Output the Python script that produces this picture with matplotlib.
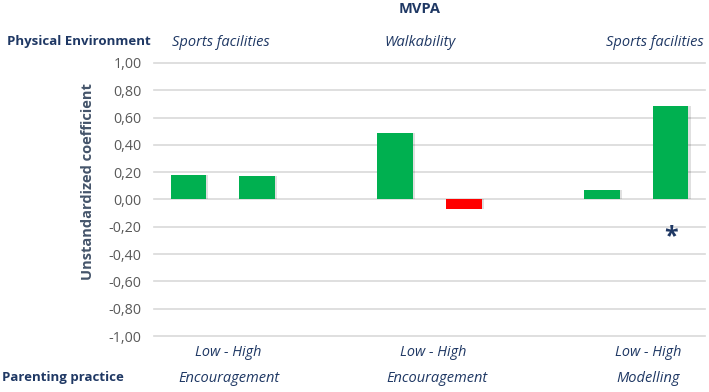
import matplotlib.pyplot as plt

# bar data (MVPA, unstandardized coefficients)
positions = [0, 1, 3, 4, 6, 7]
values = [0.18, 0.17, 0.49, -0.07, 0.07, 0.685]
colors = ['#00B050', '#00B050', '#00B050', '#FF0000', '#00B050', '#00B050']
yticks = [1.0, 0.8, 0.6, 0.4, 0.2, 0.0, -0.2, -0.4, -0.6, -0.8, -1.0]

environments = ['Sports facilities', 'Walkability', 'Sports facilities']
env_x = [221, 420, 655]
practices = ['Encouragement', 'Encouragement', 'Modelling']
prac_x = [229, 437, 648]
lowhigh_x = [228, 433, 648]

text_col = '#1F3864'
W, H = 709, 392

plt.rcParams['font.family'] = ['Open Sans', 'DejaVu Sans']

fig = plt.figure(figsize=(7.09, 3.92), dpi=100)
ax = fig.add_axes([154 / W, 1 - 336 / H, (705 - 154) / W, (336 - 63) / H])

# faint shadow behind bars
ax.bar([p + 0.03 for p in positions], values, width=0.52, color='#000000',
       alpha=0.12, zorder=2)
ax.bar(positions, values, width=0.52, color=colors, zorder=3)

ax.set_xlim(-0.5, 7.5)
ax.set_ylim(-1, 1)
ax.set_yticks(yticks)
ax.set_yticklabels(['{:.2f}'.format(v).replace('.', ',') for v in yticks],
                   color='#595959', fontsize=10.3)
ax.tick_params(axis='y', length=0, pad=9)
ax.set_xticks([])
for y in yticks:
    ax.axhline(y, color='#D9D9D9', lw=1.2, zorder=1, clip_on=False)
for s in ax.spines.values():
    s.set_visible(False)

fig.text(88 / W, 1 - 182 / H, 'Unstandardized coefficient', fontsize=10.5,
         fontweight='bold', color='#44546A', rotation=90,
         ha='center', va='center')

ax.text(7, -0.27, '*', fontsize=18, fontweight='bold', color=text_col,
        ha='center', va='center')

fig.text(420 / W, 1 - 9 / H, 'MVPA', fontsize=10.5, fontweight='bold',
         color=text_col, ha='center', va='center')
fig.text(7 / W, 1 - 42 / H, 'Physical Environment', fontsize=9.5,
         fontweight='bold', color=text_col, ha='left', va='center')
fig.text(2 / W, 1 - 378 / H, 'Parenting practice', fontsize=9.5,
         fontweight='bold', color=text_col, ha='left', va='center')

for name, x in zip(environments, env_x):
    fig.text(x / W, 1 - 42 / H, name, fontsize=10.5, style='italic',
             color=text_col, ha='center', va='center')
for x in lowhigh_x:
    fig.text(x / W, 1 - 353 / H, 'Low - High', fontsize=10.4, style='italic',
             color=text_col, ha='center', va='center')
for name, x in zip(practices, prac_x):
    fig.text(x / W, 1 - 379 / H, name, fontsize=10.5, style='italic',
             color=text_col, ha='center', va='center')

fig.savefig('out.png', dpi=100)
